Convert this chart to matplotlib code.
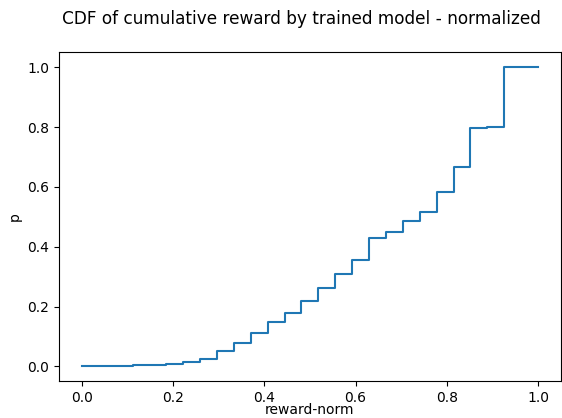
import numpy as np
import matplotlib
matplotlib.use("Agg")
import matplotlib.pyplot as plt

# step positions (k/27) and cdf levels
reward_norm = np.arange(28) / 27
p = [0.001, 0.002, 0.002, 0.003, 0.005, 0.009, 0.015, 0.025, 0.050, 0.078,
     0.110, 0.148, 0.177, 0.217, 0.262, 0.308, 0.357, 0.430, 0.449, 0.485,
     0.515, 0.582, 0.666, 0.798, 0.802, 1.000, 1.000, 1.000]

fig = plt.figure(figsize=(5.62, 4.18), dpi=100)
ax = fig.add_axes([0.105, 0.0885, 0.893, 0.786])

ax.plot(reward_norm, p, drawstyle="steps-post", color="#1f77b4", linewidth=1.5)

ax.set_xlabel("reward-norm", labelpad=-1.5)
ax.set_ylabel("p")
fig.suptitle("CDF of cumulative reward by trained model - normalized",
             x=0.537, y=0.977, fontsize=12.2)

fig.savefig("out.png", dpi=100)
